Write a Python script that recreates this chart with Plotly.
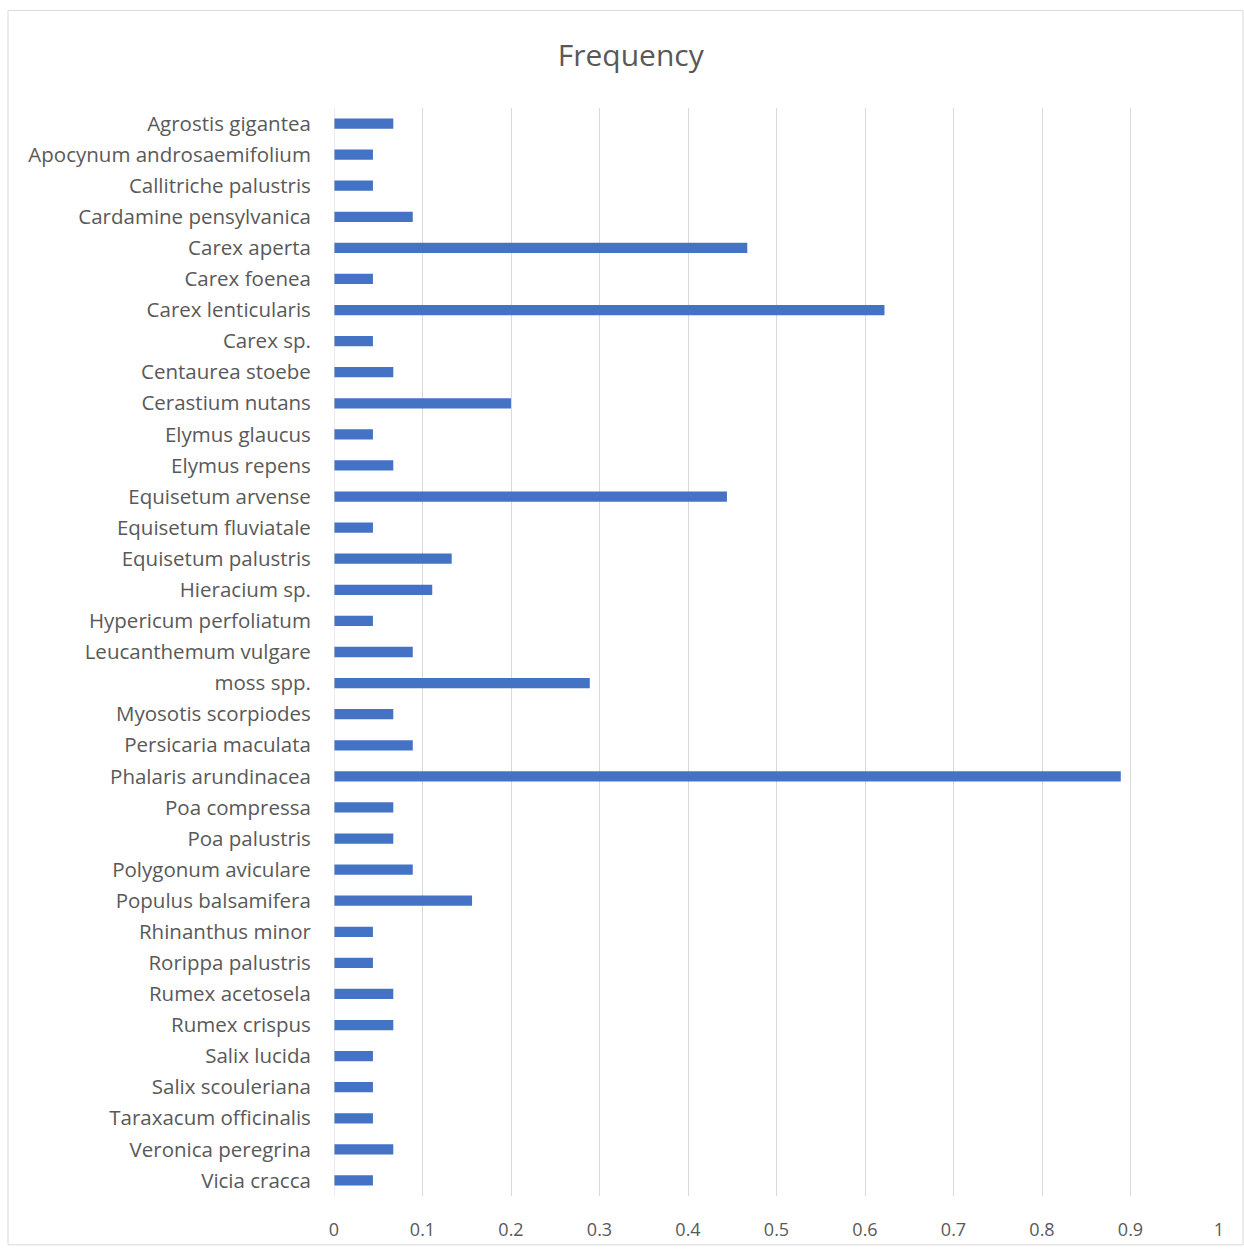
import plotly.graph_objects as go

species = [
    "Agrostis gigantea", "Apocynum androsaemifolium", "Callitriche palustris",
    "Cardamine pensylvanica", "Carex aperta", "Carex foenea", "Carex lenticularis",
    "Carex sp.", "Centaurea stoebe", "Cerastium nutans", "Elymus glaucus",
    "Elymus repens", "Equisetum arvense", "Equisetum fluviatale", "Equisetum palustris",
    "Hieracium sp.", "Hypericum perfoliatum", "Leucanthemum vulgare", "moss spp.",
    "Myosotis scorpiodes", "Persicaria maculata", "Phalaris arundinacea",
    "Poa compressa", "Poa palustris", "Polygonum aviculare", "Populus balsamifera",
    "Rhinanthus minor", "Rorippa palustris", "Rumex acetosela", "Rumex crispus",
    "Salix lucida", "Salix scouleriana", "Taraxacum officinalis", "Veronica peregrina",
    "Vicia cracca",
]
frequency = [
    0.067, 0.044, 0.044, 0.089, 0.467, 0.044, 0.622, 0.044, 0.067, 0.200,
    0.044, 0.067, 0.444, 0.044, 0.133, 0.111, 0.044, 0.089, 0.289, 0.067,
    0.089, 0.889, 0.067, 0.067, 0.089, 0.156, 0.044, 0.044, 0.067, 0.067,
    0.044, 0.044, 0.044, 0.067, 0.044,
]
x_ticks = [0, 0.1, 0.2, 0.3, 0.4, 0.5, 0.6, 0.7, 0.8, 0.9, 1]
x_tick_text = ["0", "0.1", "0.2", "0.3", "0.4", "0.5", "0.6", "0.7", "0.8", "0.9", "1"]

FONT = "Open Sans, Noto Sans, sans-serif"
GREY = "#595959"

fig = go.Figure(go.Bar(
    x=frequency, y=species, orientation="h",
    marker=dict(color="#4472C4", line=dict(width=0)),
    width=0.33,
))

T, B = 108, 52
fig.update_layout(
    width=1244, height=1253,
    margin=dict(l=334, r=25, t=T, b=B),
    paper_bgcolor="white", plot_bgcolor="white",
    showlegend=False,
    title=dict(text="Frequency", x=0.507, xanchor="center", y=1 - 55 / 1253, yanchor="middle",
               font=dict(family=FONT, size=30, color=GREY)),
    font=dict(family=FONT, color=GREY),
    bargap=0.67,
)
fig.update_xaxes(
    range=[0, 1], tickvals=x_ticks, ticktext=x_tick_text,
    showgrid=True, gridcolor="#D9D9D9", gridwidth=1,
    zeroline=False, showline=False,
    ticks="outside", ticklen=0, ticklabelstandoff=17,
    tickfont=dict(family=FONT, size=18, color=GREY),
    fixedrange=True,
)
fig.update_yaxes(
    autorange="reversed", categoryorder="array", categoryarray=species,
    showgrid=False, zeroline=False,
    showline=False,
    ticks="outside", ticklen=0, ticklabelstandoff=18,
    tickfont=dict(family=FONT, size=20.5, color=GREY),
)
ph = 1253 - T - B
bottom = 1253 - B
# vertical axis line at x=0
fig.add_shape(type="line", xref="x", yref="paper", x0=0, x1=0, y0=0, y1=1,
              line=dict(color="#D9D9D9", width=1))
# outer chart border
fig.add_shape(type="rect", xref="paper", yref="paper",
              x0=(8 - 334) / 885, x1=(1243 - 334) / 885,
              y0=(bottom - 1250) / ph, y1=(bottom - 10) / ph,
              line=dict(color="#D9D9D9", width=1), fillcolor="rgba(0,0,0,0)", layer="below")

fig.write_html("out.html")
